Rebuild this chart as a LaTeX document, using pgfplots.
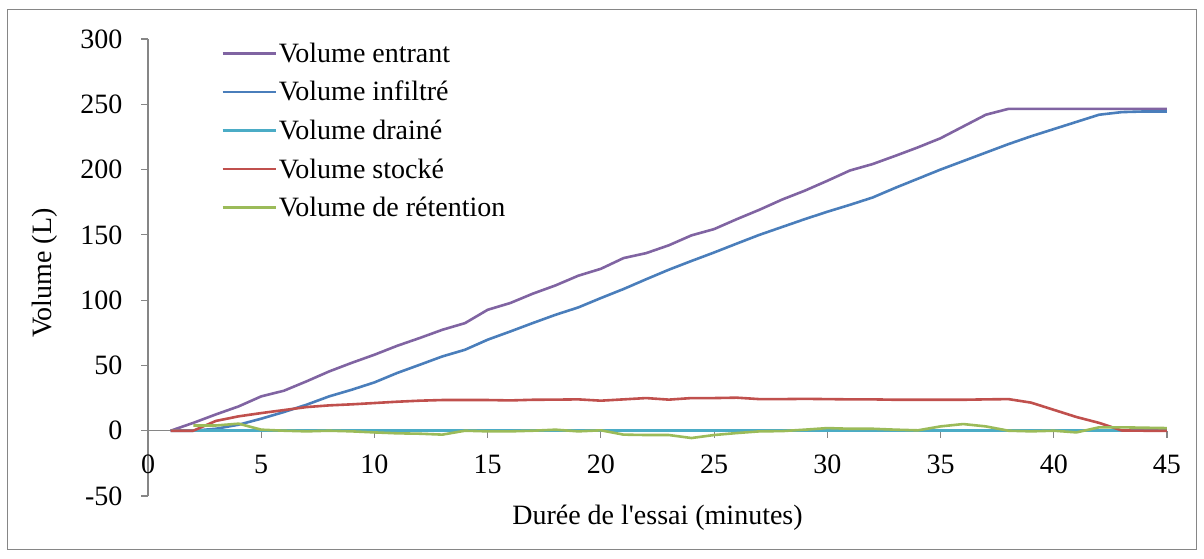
\documentclass[border=0pt]{standalone}
\usepackage{pgfplots}
\pgfplotsset{compat=1.18}
\usepackage{fontspec}
\setmainfont{Liberation Serif}
\newfontfamily\plainserif{Liberation Serif}
\definecolor{cPurple}{HTML}{8064A2}
\definecolor{cBlue}{HTML}{4A7EBB}
\definecolor{cCyan}{HTML}{4BACC6}
\definecolor{cRed}{HTML}{C0504D}
\definecolor{cGreen}{HTML}{9BBB59}
\definecolor{axgray}{HTML}{868686}
\begin{document}
\fontsize{28pt}{33pt}\selectfont
\begin{tikzpicture}
\useasboundingbox (0,0) rectangle (1204pt,559pt);
\draw[axgray, line width=1.2pt] (7.5pt,9.5pt) rectangle (1196.5pt,549.5pt);
\begin{axis}[
  at={(148pt,63pt)}, anchor=south west,
  scale only axis, width=1019pt, height=457pt,
  xmin=0, xmax=45, ymin=-50, ymax=300,
  axis x line=middle, axis y line=left,
  hide obscured x ticks=false, hide obscured y ticks=false,
  xtick={0,5,...,45}, ytick={-50,0,50,100,150,200,250,300},
  tick align=outside, major tick length=7pt,
  tick style={color=axgray, line width=1.2pt},
  axis line style={color=axgray, line width=1.2pt, -},
  /pgf/number format/assume math mode=true,
  tick label style={font=\fontsize{28pt}{33pt}\selectfont},
  xticklabel style={anchor=north, yshift=-8pt},
  yticklabel style={anchor=east, xshift=-9pt},
  every axis x label/.style={at={(rel axis cs:0.5,0)}, yshift=-22pt, anchor=center, font=\fontsize{28pt}{33pt}\selectfont},
  every axis y label/.style={at={(rel axis cs:0,0.488)}, xshift=-103pt, rotate=90, anchor=center, font=\fontsize{28pt}{33pt}\selectfont},
  xlabel={{\plainserif Durée de l'essai (minutes)}},
  ylabel={Volume (L)},
  legend cell align=left,
  legend style={at={(rel axis cs:0.0687,1.002)}, anchor=north west, draw=none, fill=none,
    font=\fontsize{28pt}{33pt}\selectfont, row sep=12.6pt,
    nodes={inner xsep=2pt, inner ysep=0pt, text height=22pt, text depth=4pt}},
  legend image code/.code={\draw[#1] (0pt,0pt) -- (53pt,0pt);},
  every axis plot/.append style={line width=2.6pt, line join=round},
]
\addplot[cPurple] table {
x y
1 0
2 6
3 12.5
4 18.6
5 26.3
6 30.6
7 37.8
8 45.4
9 52
10 58.2
11 65
12 71
13 77.3
14 82.4
15 92.6
16 97.8
17 105
18 111.3
19 118.7
20 124
21 132.2
22 136
23 142
24 149.6
25 154.4
26 162
27 169.2
28 177
29 183.8
30 191.4
31 199.3
32 204.2
33 210.5
34 217
35 224
36 233
37 242
38 246.5
39 246.5
40 246.5
41 246.5
42 246.5
43 246.5
44 246.5
45 246.5
};
\addlegendentry{Volume entrant}
\addplot[cBlue] table {
x y
1 0
2 0
3 1.5
4 4.6
5 9.2
6 14.3
7 19.9
8 26.3
9 31.4
10 37
11 44.2
12 50.5
13 56.9
14 62
15 69.7
16 76
17 82.5
18 88.8
19 94.4
20 101.6
21 108.5
22 116
23 123.3
24 130
25 136.5
26 143.3
27 150
28 156
29 162
30 167.7
31 173
32 178.6
33 186
34 193
35 200
36 206.5
37 213
38 219.5
39 225.5
40 231
41 236.5
42 242
43 244
44 244.5
45 244.5
};
\addlegendentry{Volume infiltré}
\addplot[cCyan] table {
x y
1 0
2 0
3 0
4 0
5 0
6 0
7 0
8 0
9 0
10 0
11 0
12 0
13 0
14 0
15 0
16 0
17 0
18 0
19 0
20 0
21 0
22 0
23 0
24 0
25 0
26 0
27 0
28 0
29 0
30 0
31 0
32 0
33 0
34 0
35 0
36 0
37 0
38 0
39 0
40 0
41 0
42 0
43 0
44 0
45 0
};
\addlegendentry{Volume drainé}
\addplot[cRed] table {
x y
1 0
2 0
3 7.5
4 11
5 13.5
6 15.8
7 18.1
8 19.4
9 20.2
10 21.2
11 22.2
12 23
13 23.5
14 23.5
15 23.5
16 23.2
17 23.7
18 23.8
19 24
20 23
21 24
22 25
23 23.8
24 25
25 25
26 25.3
27 24.2
28 24.2
29 24.4
30 24.2
31 24
32 24
33 23.7
34 23.7
35 23.7
36 23.7
37 24
38 24.2
39 21.5
40 16
41 10.5
42 6
43 0.2
44 0
45 0
};
\addlegendentry{Volume stocké}
\addplot[cGreen] table {
x y
2 4
3 4
4 5.4
5 0.8
6 0
7 -0.5
8 0
9 -0.5
10 -1.3
11 -2
12 -2.3
13 -3
14 0
15 -0.5
16 -0.5
17 0
18 0.8
19 -0.5
20 0.3
21 -3
22 -3.3
23 -3.3
24 -5.6
25 -3.3
26 -1.8
27 -0.5
28 -0.3
29 0.8
30 2
31 1.5
32 1.5
33 0.8
34 0.3
35 3.3
36 5.1
37 3.3
38 0
39 -0.5
40 0
41 -1.3
42 2.6
43 2.6
44 2.3
45 2
};
\addlegendentry{Volume de rétention}
\end{axis}
\end{tikzpicture}
\end{document}
